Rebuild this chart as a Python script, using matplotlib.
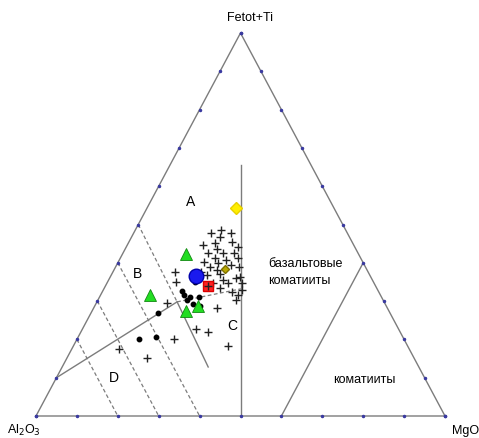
import numpy as np
import matplotlib
matplotlib.use("Agg")
import matplotlib.pyplot as plt

plt.rcParams['font.family'] = ['Liberation Sans', 'DejaVu Sans']

# ternary data, percent of cations (Al = 100 - fe - mg)
cross_fe = [47.7, 48.6, 46.7, 47.7, 45.5, 44.6, 45.1, 43.5, 42.6, 42.5, 40.7, 42.5, 41.2,
            41.2, 39.9, 39.0, 39.4, 39.0, 37.7, 35.1, 36.8, 38.1, 35.5, 34.6, 36.4, 34.6,
            32.9, 32.5, 33.3, 34.6, 37.7, 29.4, 28.1, 22.6, 22.0, 20.1, 18.3, 17.4, 15.1,
            31.6, 30.3, 44.0, 37.0, 40.2, 36.0]
cross_mg = [18.9, 20.9, 21.7, 23.8, 25.1, 18.6, 21.2, 22.6, 20.8, 24.5, 26.2, 27.2, 28.9,
            23.2, 24.6, 23.0, 27.9, 30.2, 15.1, 16.8, 23.3, 25.1, 28.0, 29.7, 31.7, 33.0,
            33.8, 31.6, 28.3, 26.0, 21.6, 17.3, 30.1, 27.8, 31.1, 23.7, 37.7, 11.7, 19.7,
            33.7, 33.7, 27.5, 26.5, 21.0, 31.0]

dot_fe = [27.0, 20.0, 20.5, 32.6, 31.6, 31.1, 29.2, 31.1, 28.7, 35.0, 30.3]
dot_mg = [16.3, 15.3, 19.0, 19.5, 20.4, 22.1, 23.8, 24.2, 25.8, 21.4, 21.8]

tri_fe = [42.2, 31.7, 27.4, 28.6]
tri_mg = [15.6, 12.0, 23.0, 25.3]

blue_fe, blue_mg = [36.6], [20.8]
red_fe, red_mg = [33.9], [25.1]
yel_fe, yel_mg = [54.2], [21.7]
olive_fe, olive_mg = [38.5], [27.0]

# field boundaries (fe, mg)
solid_lines = [
    [(10, 0), (29.8, 19.6)],
    [(29.8, 19.6), (12.8, 35.7)],
    [(0, 50), (65.5, 17.25)],
    [(0, 60), (40, 60)],
]
dashed_lines = [
    [(29.8, 19.6), (33.2, 33.5)],
    [(50, 0), (29.8, 19.6)],
    [(40, 0), (0, 40)],
    [(30, 0), (0, 30)],
    [(20, 0), (0, 20)],
]


def tern(fe, mg):
    fe = np.asarray(fe, dtype=float)
    mg = np.asarray(mg, dtype=float)
    return mg + fe / 2.0, fe


fig = plt.figure(figsize=(4.79, 4.38), dpi=100)
ax = fig.add_axes([36 / 479, 22 / 438, 409 / 479, 383 / 438])
ax.set_xlim(0, 100)
ax.set_ylim(0, 100)
ax.axis('off')

lc = '#7c7c7c'
ax.plot([0, 100, 50, 0], [0, 0, 100, 0], color=lc, lw=1.0, clip_on=False)
for seg in solid_lines:
    x, y = tern([p[0] for p in seg], [p[1] for p in seg])
    ax.plot(x, y, color=lc, lw=1.0)
for seg in dashed_lines:
    x, y = tern([p[0] for p in seg], [p[1] for p in seg])
    ax.plot(x, y, color=lc, lw=0.9, ls=(0, (3, 2)))

# side ticks
t = np.arange(0, 101, 10)
for fe, mg in [(np.zeros_like(t), t), (t, np.zeros_like(t)), (t, 100 - t)]:
    x, y = tern(fe, mg)
    ax.plot(x, y, ls='none', marker='o', ms=1.5, color='#3a3aa0', clip_on=False)

x, y = tern(cross_fe, cross_mg)
ax.plot(x, y, ls='none', marker='+', ms=6, mew=1.0, color='#222222')
x, y = tern(dot_fe, dot_mg)
ax.plot(x, y, ls='none', marker='o', ms=3.2, color='black')
x, y = tern(tri_fe, tri_mg)
ax.plot(x, y, ls='none', marker='^', ms=8, color='#22dd22', mec='#118811', mew=0.6)
x, y = tern(blue_fe, blue_mg)
ax.plot(x, y, ls='none', marker='o', ms=10.5, color='#1a1aee', mec='#0000aa')
x, y = tern(red_fe, red_mg)
ax.plot(x, y, ls='none', marker='s', ms=7.5, color='#ff2222', mec='#dd0000')
ax.plot(x, y, ls='none', marker='+', ms=6, mew=1.0, color='#222222')
x, y = tern(yel_fe, yel_mg)
ax.plot(x, y, ls='none', marker='D', ms=6, color='#ffee00', mec='#e8d000')
x, y = tern(olive_fe, olive_mg)
ax.plot(x, y, ls='none', marker='D', ms=4.5, color='#b8a800', mec='#807000')

fs = 9
ax.text(37.9, 55.9, 'A', fontsize=10, ha='center', va='center')
ax.text(24.7, 37.1, 'B', fontsize=10, ha='center', va='center')
ax.text(47.9, 23.5, 'C', fontsize=10, ha='center', va='center')
ax.text(19.1, 9.9, 'D', fontsize=10, ha='center', va='center')
ax.text(56.7, 37.5, 'базальтовые\nкоматииты', fontsize=fs, ha='left', va='center',
        linespacing=1.6)
ax.text(80.2, 9.4, 'коматииты', fontsize=fs, ha='center', va='center')
ax.text(52.3, 103.9, 'Fetot+Ti', fontsize=fs, ha='center', va='center', clip_on=False)
ax.text(-2.9, -3.7, 'Al$_2$O$_3$', fontsize=fs, ha='center', va='center', clip_on=False)
ax.text(105.1, -3.9, 'MgO', fontsize=fs, ha='center', va='center', clip_on=False)

fig.savefig('out.png', dpi=100)
